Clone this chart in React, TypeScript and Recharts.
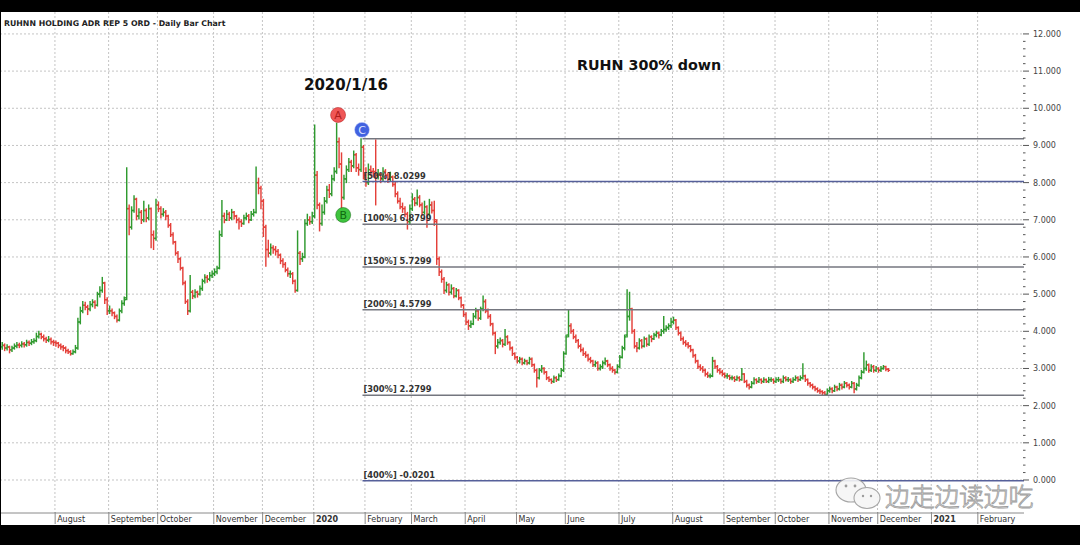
import React from 'react';
import {
  ComposedChart,
  Bar,
  XAxis,
  YAxis,
  CartesianGrid,
  ReferenceLine,
  ReferenceDot,
} from 'recharts';

const UP = '#2f9a2f';
const DOWN = '#e4403a';
const GRID = '#c4c4c4';
const FIB_GRAY = '#74767f';
const FIB_BLUE = '#56609a';
const FONT = '"DejaVu Sans", Verdana, sans-serif';

// daily bars, [open, high, low, close]
const JUL19 = [
  [3.58, 3.7, 3.52, 3.62], [3.62, 3.66, 3.48, 3.55], [3.55, 3.64, 3.5, 3.58], [3.58, 3.6, 3.42, 3.5],
  [3.5, 3.6, 3.46, 3.55], [3.55, 3.66, 3.52, 3.6], [3.6, 3.7, 3.56, 3.63], [3.63, 3.68, 3.56, 3.62],
  [3.62, 3.72, 3.58, 3.66], [3.66, 3.7, 3.58, 3.64], [3.64, 3.76, 3.6, 3.7], [3.7, 3.74, 3.62, 3.68],
  [3.68, 3.78, 3.64, 3.72], [3.72, 3.8, 3.68, 3.75], [3.75, 3.95, 3.72, 3.86], [3.86, 4.0, 3.82, 3.92],
  [3.92, 3.95, 3.8, 3.85], [3.85, 3.9, 3.74, 3.8], [3.8, 3.84, 3.7, 3.76], [3.76, 3.86, 3.72, 3.78],
  [3.78, 3.82, 3.66, 3.72], [3.72, 3.76, 3.62, 3.7],
];
const AUG19 = [
  [3.7, 3.74, 3.6, 3.68], [3.68, 3.7, 3.56, 3.62], [3.62, 3.66, 3.52, 3.58], [3.58, 3.62, 3.48, 3.55],
  [3.55, 3.58, 3.42, 3.48], [3.48, 3.52, 3.4, 3.45], [3.45, 3.48, 3.36, 3.4], [3.4, 3.5, 3.38, 3.45],
  [3.45, 3.62, 3.42, 3.55], [3.55, 4.35, 3.52, 4.25], [4.25, 4.65, 4.2, 4.55], [4.55, 4.8, 4.5, 4.7],
  [4.7, 4.78, 4.58, 4.65], [4.65, 4.7, 4.45, 4.6], [4.6, 4.8, 4.55, 4.72], [4.72, 4.85, 4.66, 4.78],
  [4.78, 4.82, 4.62, 4.7], [4.7, 5.05, 4.68, 5.0], [5.0, 5.2, 4.92, 5.1], [5.1, 5.45, 5.05, 5.3],
  [5.3, 5.32, 4.75, 4.85], [4.85, 4.9, 4.45, 4.55],
];
const SEP19 = [
  [4.55, 4.68, 4.48, 4.55], [4.55, 4.6, 4.42, 4.5], [4.5, 4.52, 4.34, 4.4], [4.4, 4.44, 4.25, 4.3],
  [4.3, 4.6, 4.28, 4.55], [4.55, 4.82, 4.5, 4.75], [4.75, 4.92, 4.7, 4.85], [4.9, 8.4, 4.85, 7.3],
  [7.3, 7.4, 6.6, 6.8], [6.8, 7.35, 6.75, 7.25], [7.25, 7.65, 7.2, 7.55], [7.55, 7.58, 7.0, 7.1],
  [7.1, 7.3, 7.02, 7.2], [7.2, 7.25, 6.9, 7.0], [7.0, 7.5, 6.95, 7.25], [7.25, 7.3, 6.95, 7.05],
  [7.05, 7.4, 7.0, 7.3], [7.3, 7.32, 6.25, 6.6], [6.6, 6.7, 6.2, 6.5], [6.5, 7.55, 6.45, 7.4],
];
const OCT19 = [
  [7.4, 7.48, 7.22, 7.3], [7.3, 7.35, 7.05, 7.15], [7.15, 7.3, 7.1, 7.2], [7.2, 7.25, 7.0, 7.1],
  [7.1, 7.12, 6.8, 6.85], [6.85, 6.9, 6.55, 6.6], [6.6, 6.65, 6.35, 6.4], [6.4, 6.42, 6.05, 6.1],
  [6.1, 6.15, 5.85, 5.95], [5.95, 5.98, 5.65, 5.7], [5.7, 5.72, 5.25, 5.3], [5.3, 5.35, 4.75, 4.8],
  [4.8, 4.85, 4.45, 4.55], [4.55, 5.5, 4.52, 5.05], [5.05, 5.1, 4.88, 4.95], [4.95, 5.12, 4.9, 5.05],
  [5.05, 5.08, 4.92, 5.0], [5.0, 5.22, 4.98, 5.15], [5.15, 5.4, 5.1, 5.35], [5.35, 5.52, 5.3, 5.45],
  [5.45, 5.5, 5.32, 5.4], [5.4, 5.58, 5.36, 5.5], [5.5, 5.62, 5.45, 5.55],
];
const NOV19 = [
  [5.55, 5.68, 5.5, 5.6], [5.6, 5.75, 5.55, 5.7], [5.7, 6.7, 5.68, 6.6], [6.6, 7.52, 6.55, 7.1],
  [7.1, 7.18, 6.92, 7.0], [7.0, 7.25, 6.98, 7.15], [7.15, 7.2, 6.98, 7.05], [7.05, 7.28, 7.0, 7.2],
  [7.2, 7.22, 7.02, 7.1], [7.1, 7.12, 6.92, 7.0], [7.0, 7.05, 6.75, 6.95], [6.95, 7.0, 6.82, 6.9],
  [6.9, 7.12, 6.88, 7.05], [7.05, 7.18, 7.0, 7.1], [7.1, 7.14, 6.92, 7.0], [7.0, 7.22, 6.98, 7.15],
  [7.15, 7.28, 7.1, 7.2], [7.2, 8.42, 7.18, 8.0], [8.0, 8.12, 7.7, 7.85], [7.85, 7.9, 7.3, 7.5],
];
const DEC19 = [
  [7.5, 7.55, 6.55, 6.8], [6.8, 6.85, 5.75, 6.2], [6.2, 6.45, 6.0, 6.1], [6.1, 6.35, 6.05, 6.25],
  [6.25, 6.3, 6.1, 6.2], [6.2, 6.28, 6.05, 6.15], [6.15, 6.2, 5.98, 6.05], [6.05, 6.08, 5.82, 5.9],
  [5.9, 5.95, 5.72, 5.8], [5.8, 5.85, 5.6, 5.65], [5.65, 5.7, 5.48, 5.55], [5.55, 5.62, 5.45, 5.55],
  [5.55, 5.58, 5.28, 5.35], [5.35, 5.38, 5.05, 5.1], [5.1, 6.7, 5.08, 6.1], [6.1, 6.15, 5.8, 5.95],
  [5.95, 6.1, 5.88, 6.0], [6.0, 7.0, 5.98, 6.9], [6.9, 7.15, 6.85, 7.0], [7.0, 7.08, 6.88, 6.95],
  [6.95, 7.2, 6.9, 7.1],
];
const JAN20 = [
  [7.1, 9.55, 7.05, 8.2], [8.2, 8.3, 7.3, 7.4], [7.4, 7.45, 6.7, 6.9], [6.9, 7.4, 6.85, 7.2],
  [7.2, 7.6, 7.15, 7.5], [7.5, 7.9, 7.45, 7.8], [7.8, 7.95, 7.6, 7.7], [7.7, 8.2, 7.65, 8.1],
  [8.1, 8.4, 8.05, 8.3], [8.3, 9.6, 8.25, 9.1], [9.1, 9.2, 8.4, 8.5], [8.5, 8.8, 7.3, 7.6],
  [7.6, 8.2, 7.55, 8.1], [8.1, 8.45, 8.0, 8.35], [8.35, 8.65, 8.3, 8.55], [8.55, 8.6, 8.3, 8.45],
  [8.45, 8.85, 8.4, 8.75], [8.75, 8.78, 8.3, 8.4], [8.4, 8.5, 8.2, 8.35], [8.35, 9.18, 8.3, 8.95],
  [8.95, 9.0, 8.1, 8.2],
];
const FEB20 = [
  [8.2, 8.4, 7.9, 8.0], [8.0, 8.5, 7.95, 8.35], [8.35, 8.45, 8.2, 8.3], [8.3, 8.38, 8.15, 8.25],
  [8.3, 9.15, 7.4, 8.2], [8.2, 8.35, 8.1, 8.2], [8.2, 8.25, 8.0, 8.1], [8.1, 8.4, 8.05, 8.3],
  [8.3, 8.35, 8.1, 8.2], [8.2, 8.25, 8.0, 8.1], [8.1, 8.28, 8.05, 8.15], [8.15, 8.18, 7.9, 7.95],
  [7.95, 8.0, 7.62, 7.7], [7.7, 7.75, 7.45, 7.5], [7.5, 7.58, 7.3, 7.35], [7.35, 7.45, 7.2, 7.3],
  [7.3, 7.35, 7.08, 7.15], [7.15, 7.2, 6.75, 6.95], [6.95, 7.4, 6.9, 7.3],
];
const MAR20 = [
  [7.3, 7.7, 7.25, 7.55], [7.55, 7.6, 7.38, 7.45], [7.45, 7.8, 7.4, 7.6], [7.6, 7.65, 7.35, 7.4],
  [7.4, 7.45, 7.12, 7.2], [7.2, 7.5, 7.15, 7.35], [7.35, 7.38, 6.8, 7.15], [7.15, 7.55, 7.1, 7.4],
  [7.4, 7.48, 7.18, 7.25], [7.25, 7.5, 6.85, 7.0], [6.95, 7.0, 5.8, 5.95], [5.95, 6.0, 5.5, 5.6],
  [5.6, 5.65, 5.32, 5.4], [5.4, 5.45, 5.02, 5.1], [5.1, 5.32, 5.05, 5.25], [5.25, 5.28, 4.98, 5.05],
  [5.05, 5.25, 5.0, 5.15], [5.15, 5.18, 4.9, 4.95], [4.95, 5.15, 4.92, 5.1], [5.1, 5.12, 4.85, 4.9],
  [4.9, 4.92, 4.65, 4.7], [4.7, 4.72, 4.4, 4.45],
];
const APR20 = [
  [4.45, 4.5, 4.18, 4.25], [4.25, 4.3, 4.05, 4.15], [4.15, 4.28, 4.1, 4.2], [4.2, 4.48, 4.18, 4.4],
  [4.4, 4.62, 4.35, 4.55], [4.55, 4.58, 4.3, 4.35], [4.35, 4.65, 4.32, 4.6], [4.6, 4.95, 4.55, 4.8],
  [4.8, 4.85, 4.5, 4.55], [4.55, 4.6, 4.35, 4.4], [4.4, 4.45, 4.15, 4.2], [4.2, 4.22, 3.9, 3.95],
  [3.95, 3.98, 3.4, 3.6], [3.6, 3.78, 3.55, 3.7], [3.7, 3.82, 3.65, 3.75], [3.75, 3.78, 3.58, 3.65],
  [3.65, 4.05, 3.62, 3.85], [3.85, 3.88, 3.65, 3.7], [3.7, 3.72, 3.5, 3.55], [3.55, 3.58, 3.35, 3.4],
  [3.4, 3.42, 3.25, 3.3],
];
const MAY20 = [
  [3.3, 3.32, 3.15, 3.2], [3.2, 3.3, 3.15, 3.25], [3.25, 3.28, 3.1, 3.15], [3.15, 3.25, 3.12, 3.2],
  [3.2, 3.22, 3.1, 3.15], [3.15, 3.3, 3.12, 3.25], [3.25, 3.28, 3.05, 3.1], [3.1, 3.12, 2.9, 2.95],
  [2.95, 2.98, 2.5, 2.75], [2.75, 3.0, 2.72, 2.95], [2.95, 3.08, 2.9, 3.0], [3.0, 3.02, 2.85, 2.9],
  [2.9, 2.92, 2.7, 2.75], [2.75, 2.78, 2.65, 2.7], [2.7, 2.72, 2.6, 2.65], [2.65, 2.8, 2.62, 2.75],
  [2.75, 2.78, 2.65, 2.7], [2.7, 2.85, 2.68, 2.8], [2.8, 3.0, 2.78, 2.95], [2.95, 3.45, 2.92, 3.4],
];
const JUN20 = [
  [3.4, 3.9, 3.38, 3.85], [3.9, 4.57, 3.85, 4.15], [4.15, 4.2, 3.95, 4.0], [4.0, 4.05, 3.8, 3.85],
  [3.85, 3.9, 3.7, 3.75], [3.75, 3.78, 3.55, 3.6], [3.6, 3.65, 3.45, 3.5], [3.5, 3.55, 3.35, 3.4],
  [3.4, 3.45, 3.3, 3.35], [3.35, 3.38, 3.2, 3.25], [3.25, 3.3, 3.15, 3.2], [3.2, 3.22, 3.05, 3.1],
  [3.1, 3.2, 3.05, 3.15], [3.15, 3.18, 2.95, 3.0], [3.0, 3.1, 2.96, 3.05], [3.05, 3.2, 3.0, 3.15],
  [3.15, 3.28, 3.1, 3.2], [3.2, 3.22, 3.05, 3.1], [3.1, 3.12, 2.95, 3.0], [3.0, 3.05, 2.9, 2.95],
  [2.95, 2.98, 2.85, 2.9], [2.9, 3.1, 2.88, 3.05],
];
const JUL20 = [
  [3.05, 3.35, 3.02, 3.3], [3.3, 3.6, 3.28, 3.55], [3.55, 3.9, 3.5, 3.85], [3.9, 5.12, 3.85, 4.4],
  [4.4, 5.05, 4.3, 4.6], [4.6, 4.62, 3.95, 4.0], [4.0, 4.05, 3.55, 3.6], [3.6, 3.7, 3.45, 3.55],
  [3.55, 3.8, 3.52, 3.75], [3.75, 3.78, 3.55, 3.6], [3.6, 3.85, 3.58, 3.8], [3.8, 3.82, 3.6, 3.65],
  [3.65, 3.9, 3.62, 3.85], [3.85, 3.88, 3.72, 3.8], [3.8, 3.95, 3.78, 3.9], [3.9, 4.0, 3.85, 3.95],
  [3.95, 3.98, 3.82, 3.9], [3.9, 4.05, 3.88, 4.0], [4.0, 4.4, 3.95, 4.05], [4.05, 4.15, 4.0, 4.1],
  [4.1, 4.2, 4.05, 4.15], [4.15, 4.35, 4.1, 4.25],
];
const AUG20 = [
  [4.25, 4.38, 4.2, 4.3], [4.3, 4.32, 4.05, 4.1], [4.1, 4.12, 3.9, 3.95], [3.95, 3.98, 3.75, 3.8],
  [3.8, 3.85, 3.65, 3.7], [3.7, 3.75, 3.6, 3.65], [3.65, 3.7, 3.55, 3.6], [3.6, 3.62, 3.45, 3.5],
  [3.5, 3.52, 3.3, 3.35], [3.35, 3.38, 3.15, 3.2], [3.2, 3.22, 3.0, 3.05], [3.05, 3.1, 2.95, 3.0],
  [3.0, 3.05, 2.9, 2.95], [2.95, 2.98, 2.8, 2.85], [2.85, 2.9, 2.76, 2.8], [2.8, 2.85, 2.75, 2.8],
  [2.8, 3.3, 2.78, 3.2], [3.2, 3.22, 3.0, 3.05], [3.05, 3.08, 2.9, 2.95], [2.95, 3.0, 2.85, 2.9],
  [2.9, 2.95, 2.8, 2.85],
];
const SEP20 = [
  [2.85, 2.88, 2.75, 2.8], [2.8, 2.86, 2.74, 2.8], [2.8, 2.82, 2.7, 2.75], [2.75, 2.8, 2.7, 2.75],
  [2.75, 2.78, 2.65, 2.7], [2.7, 2.8, 2.68, 2.75], [2.75, 2.78, 2.66, 2.7], [2.7, 3.0, 2.68, 2.85],
  [2.85, 2.86, 2.62, 2.65], [2.65, 2.68, 2.5, 2.55], [2.55, 2.58, 2.45, 2.5], [2.5, 2.65, 2.48, 2.6],
  [2.6, 2.75, 2.58, 2.7], [2.7, 2.72, 2.6, 2.65], [2.65, 2.76, 2.62, 2.7], [2.7, 2.72, 2.6, 2.65],
  [2.65, 2.75, 2.62, 2.7], [2.7, 2.72, 2.62, 2.65], [2.65, 2.76, 2.62, 2.7], [2.7, 2.75, 2.65, 2.7],
  [2.7, 2.72, 2.6, 2.65],
];
const OCT20 = [
  [2.65, 2.75, 2.62, 2.7], [2.7, 2.76, 2.65, 2.7], [2.7, 2.72, 2.6, 2.65], [2.65, 2.8, 2.62, 2.75],
  [2.75, 2.78, 2.66, 2.7], [2.7, 2.76, 2.65, 2.7], [2.7, 2.72, 2.6, 2.65], [2.65, 2.75, 2.62, 2.7],
  [2.7, 2.8, 2.68, 2.75], [2.75, 2.78, 2.65, 2.7], [2.7, 2.8, 2.68, 2.75], [2.75, 3.13, 2.72, 2.8],
  [2.8, 2.82, 2.65, 2.7], [2.7, 2.72, 2.55, 2.6], [2.6, 2.62, 2.5, 2.55], [2.55, 2.58, 2.45, 2.5],
  [2.5, 2.52, 2.4, 2.45], [2.45, 2.48, 2.36, 2.4], [2.4, 2.44, 2.33, 2.38], [2.38, 2.4, 2.3, 2.35],
  [2.35, 2.38, 2.27, 2.3], [2.3, 2.45, 2.28, 2.4],
];
const NOV20 = [
  [2.4, 2.5, 2.36, 2.45], [2.45, 2.48, 2.35, 2.4], [2.4, 2.55, 2.38, 2.5], [2.5, 2.52, 2.4, 2.45],
  [2.45, 2.6, 2.42, 2.55], [2.55, 2.58, 2.45, 2.5], [2.5, 2.65, 2.48, 2.6], [2.6, 2.62, 2.5, 2.55],
  [2.55, 2.58, 2.45, 2.5], [2.5, 2.65, 2.48, 2.6], [2.6, 2.62, 2.35, 2.45], [2.45, 2.6, 2.42, 2.55],
  [2.55, 2.8, 2.52, 2.75], [2.75, 2.95, 2.72, 2.9], [2.9, 3.42, 2.88, 3.0], [3.0, 3.2, 2.95, 3.1],
  [3.1, 3.12, 2.9, 2.95], [2.95, 3.1, 2.92, 3.05], [3.05, 3.08, 2.9, 2.95], [2.95, 3.05, 2.92, 3.0],
];
const DEC20 = [
  [3.0, 3.02, 2.9, 2.95], [2.95, 3.05, 2.92, 3.0], [3.0, 3.08, 2.98, 3.05], [3.05, 3.06, 2.94, 2.98],
  [2.98, 3.0, 2.92, 2.95],
];

// first trading day of each month, counted from 1 Jul 2019
const MONTH_STARTS = [22, 44, 64, 87, 107, 128, 149, 168, 190, 211, 231, 253, 275, 296, 317, 339, 359, 381, 400];
const MONTH_LABELS = [
  'August', 'September', 'October', 'November', 'December', '2020', 'February', 'March', 'April',
  'May', 'June', 'July', 'August', 'September', 'October', 'November', 'December', '2021', 'February',
];
const Y_GRID = [0, 1, 2, 3, 4, 5, 6, 7, 8, 9, 10, 11, 12];
const Y_TICKS = Array.from({ length: 61 }, (_, k) => Math.round(k * 2) / 10);

const FIB_START = 147.5;
const FIB_LEVELS = [
  { value: 9.1799, label: '', color: FIB_GRAY },
  { value: 8.0299, label: '[50%] 8.0299', color: FIB_BLUE },
  { value: 6.8799, label: '[100%] 6.8799', color: FIB_GRAY },
  { value: 5.7299, label: '[150%] 5.7299', color: FIB_GRAY },
  { value: 4.5799, label: '[200%] 4.5799', color: FIB_GRAY },
  { value: 2.2799, label: '[300%] 2.2799', color: FIB_GRAY },
  { value: -0.0201, label: '[400%] -0.0201', color: FIB_BLUE },
];

const MARKERS = [
  { id: 'A', x: 137.5, y: 9.82, fill: '#f05656', text: '#b01c1c' },
  { id: 'B', x: 139.6, y: 7.13, fill: '#3fc43f', text: '#0f6a0f' },
  { id: 'C', x: 147.3, y: 9.42, fill: '#4262e0', text: '#dfe6ff' },
];

const X_DOMAIN: [number, number] = [-1, 418.5];
const Y_DOMAIN: [number, number] = [-0.888, 12.59];

const bars = [
  ...JUL19, ...AUG19, ...SEP19, ...OCT19, ...NOV19, ...DEC19, ...JAN20, ...FEB20, ...MAR20,
  ...APR20, ...MAY20, ...JUN20, ...JUL20, ...AUG20, ...SEP20, ...OCT20, ...NOV20, ...DEC20,
];
const data = bars.map(([o, h, l, c], i) => ({ i, o, h, l, c, range: [l, h] }));

const OhlcBar = (props: any) => {
  const { x, y, width, height, payload } = props;
  if (!payload) return null;
  const { o, h, l, c } = payload;
  const top = Math.min(y, y + height);
  const hgt = Math.abs(height);
  const cx = x + width / 2;
  const span = h - l || 1;
  const yo = top + ((h - o) / span) * hgt;
  const yc = top + ((h - c) / span) * hgt;
  const color = c >= o ? UP : DOWN;
  return (
    <g stroke={color} strokeWidth={1.45}>
      <line x1={cx} x2={cx} y1={top - 0.5} y2={top + hgt + 0.5} />
      <line x1={cx - 1.8} x2={cx} y1={yo} y2={yo} />
      <line x1={cx} x2={cx + 1.8} y1={yc} y2={yc} />
    </g>
  );
};

const MonthTick = (props: any) => {
  const { x, y, payload, index } = props;
  const label = MONTH_LABELS[index] ?? '';
  const bold = label === '2020' || label === '2021';
  const top = y - 1;
  return (
    <g>
      <line x1={x - 1} x2={x - 1} y1={top} y2={top + 12} stroke="#8a8a8a" />
      <text x={x + 1} y={top + 9.5} fontSize={8} fontFamily={FONT} fontWeight={bold ? 700 : 400} fill="#333">
        {label}
      </text>
    </g>
  );
};

const PriceTick = (props: any) => {
  const { x, y, payload } = props;
  const v = payload.value;
  const major = Math.abs(v - Math.round(v)) < 1e-6;
  return (
    <g>
      <line x1={x - 1} x2={x + (major ? 5 : 1.5)} y1={y} y2={y} stroke="#555" />
      {major && (
        <text x={x + 9} y={y + 3} fontSize={8} fontFamily={FONT} fill="#444">
          {v.toFixed(3)}
        </text>
      )}
    </g>
  );
};

const MarkerShape = (m: (typeof MARKERS)[number]) => (props: any) => {
  const { cx, cy } = props;
  return (
    <g>
      <circle cx={cx} cy={cy} r={7.5} fill={m.fill} stroke={m.text} strokeOpacity={0.5} />
      <text x={cx} y={cy + 3.8} textAnchor="middle" fontSize={11} fontFamily={FONT} fill={m.text}>
        {m.id}
      </text>
    </g>
  );
};

const fibLabel = (text: string) => (props: any) => {
  const { viewBox } = props;
  if (!text || !viewBox) return null;
  return (
    <text x={viewBox.x + 1} y={viewBox.y - 3} fontSize={8.3} fontWeight={700} fontFamily={FONT} fill="#333">
      {text}
    </text>
  );
};

export default function App() {
  return (
    <div
      style={{
        position: 'absolute',
        left: 0,
        top: 0,
        width: 1080,
        height: 545,
        background: '#000',
        overflow: 'hidden',
      }}
    >
      <div style={{ position: 'absolute', left: 0, top: 12, width: 1080, height: 513, background: '#fff' }}>
        <ComposedChart width={1080} height={513} data={data} margin={{ top: 0, right: 0, bottom: 0, left: 0 }}>
          <CartesianGrid
            stroke={GRID}
            strokeDasharray="2 2"
            horizontalValues={Y_GRID}
            verticalValues={MONTH_STARTS.map((m) => m - 0.5)}
          />
          <XAxis
            dataKey="i"
            type="number"
            domain={X_DOMAIN}
            allowDataOverflow
            ticks={MONTH_STARTS}
            interval={0}
            height={12}
            tickLine={false}
            tickSize={0}
            tickMargin={0}
            axisLine={{ stroke: '#8a8a8a' }}
            tick={<MonthTick />}
          />
          <YAxis
            orientation="right"
            type="number"
            domain={Y_DOMAIN}
            allowDataOverflow
            ticks={Y_TICKS}
            interval={0}
            width={56}
            tickLine={false}
            tickSize={0}
            tickMargin={0}
            axisLine={false}
            tick={<PriceTick />}
          />
          {FIB_LEVELS.map((f) => (
            <ReferenceLine
              key={f.value}
              segment={[
                { x: FIB_START, y: f.value },
                { x: X_DOMAIN[1], y: f.value },
              ]}
              stroke={f.color}
              strokeWidth={1.6}
              label={fibLabel(f.label)}
            />
          ))}
          <Bar dataKey="range" barSize={2} shape={OhlcBar} isAnimationActive={false} />
          {MARKERS.map((m) => (
            <ReferenceDot key={m.id} x={m.x} y={m.y} r={7.5} shape={MarkerShape(m)} />
          ))}
        </ComposedChart>
      </div>
      <div style={{ position: 'absolute', left: 0, top: 12, width: 1, height: 513, background: '#000' }} />
      <svg width={1080} height={545} style={{ position: 'absolute', left: 0, top: 0, pointerEvents: 'none' }}>
        <text x={4} y={26} fontSize={7.8} fontWeight={700} fontFamily={FONT} fill="#222">
          RUHNN HOLDING ADR REP 5 ORD - Daily Bar Chart
        </text>
        <text x={304} y={90} fontSize={15} fontWeight={700} fontFamily={FONT} fill="#111">
          2020/1/16
        </text>
        <text x={577} y={70} fontSize={14.3} fontWeight={700} fontFamily={FONT} fill="#111">
          RUHN 300% down
        </text>
        <g stroke="#9c9c9c" strokeWidth={1.1} fill="#f6f6f6" opacity={0.9}>
          <ellipse cx={851} cy={490} rx={15} ry={12} />
          <ellipse cx={867} cy={498} rx={13} ry={10.5} />
        </g>
        <g fill="#9c9c9c">
          <circle cx={846} cy={486} r={1.4} />
          <circle cx={855} cy={486} r={1.4} />
          <circle cx={863} cy={496} r={1.2} />
          <circle cx={871} cy={496} r={1.2} />
        </g>
        <text
          x={885}
          y={506}
          fontSize={25}
          letterSpacing={-0.3}
          fontFamily='"Noto Sans CJK SC", sans-serif'
          fontWeight={300}
          fill="#f4f4f4"
          stroke="#9c9c9c"
          strokeWidth={0.8}
        >
          边走边读边吃
        </text>
      </svg>
    </div>
  );
}
